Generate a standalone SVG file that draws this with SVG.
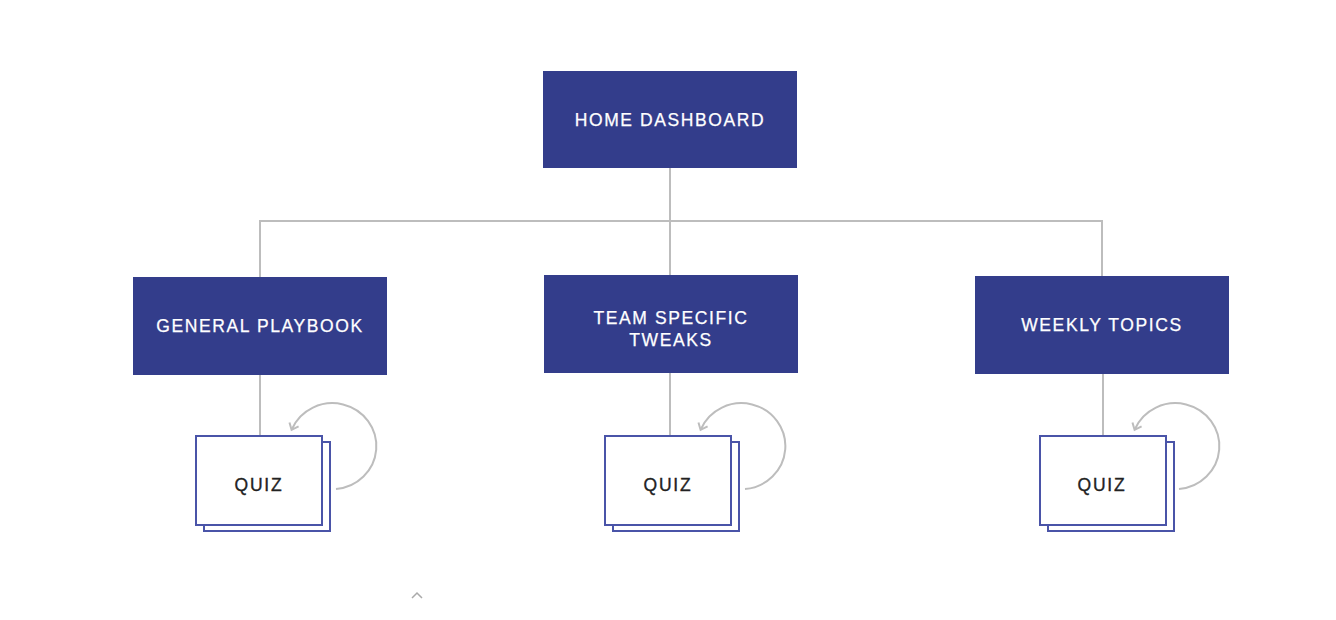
<svg xmlns="http://www.w3.org/2000/svg" width="1336" height="620" viewBox="0 0 1336 620">
<style>
.box{fill:#333d8b;}
.lbl{font-family:"Liberation Sans",Arial,sans-serif;font-size:17.5px;fill:#ffffff;letter-spacing:1.6px;text-anchor:middle;dominant-baseline:central;stroke:#fff;stroke-width:0.25;}
.q{font-family:"Liberation Sans",Arial,sans-serif;font-size:17.5px;fill:#222;letter-spacing:1.8px;text-anchor:middle;dominant-baseline:central;stroke:#222;stroke-width:0.35;}
.card{fill:#fff;stroke:#4a54a8;stroke-width:2;}
.ln{fill:none;stroke:#bdbdbd;stroke-width:2;}
</style>
<defs>
<marker id="ah" viewBox="0 0 12 12" refX="6" refY="6" markerWidth="12" markerHeight="12" markerUnits="userSpaceOnUse" orient="auto">
<path d="M1,1 L7,6 L1,11" fill="none" stroke="#bdbdbd" stroke-width="2"/>
</marker>
</defs>
<rect width="1336" height="620" fill="#fff"/>
<g id="connectors">
<path class="ln" d="M670,168 V275 M260,277 V221 H1102 V276"/>
<path class="ln" d="M260,375 V436 M670,373 V436 M1103,374 V436"/>
<path class="ln" d="M336,489 A44,43 0 1 0 292,429" marker-end="url(#ah)"/>
<path class="ln" d="M745,489 A44,43 0 1 0 701,429" marker-end="url(#ah)"/>
<path class="ln" d="M1179,489 A44,43 0 1 0 1135,429" marker-end="url(#ah)"/>
</g>
<g id="home"><rect class="box" x="543" y="71" width="254" height="97"/><text class="lbl" x="670" y="120">HOME DASHBOARD</text></g>
<g id="general"><rect class="box" x="133" y="277" width="254" height="98"/><text class="lbl" x="260" y="326">GENERAL PLAYBOOK</text></g>
<g id="team"><rect class="box" x="544" y="275" width="254" height="98"/><text class="lbl" x="671" y="318">TEAM SPECIFIC</text><text class="lbl" x="671" y="340">TWEAKS</text></g>
<g id="weekly"><rect class="box" x="975" y="276" width="254" height="98"/><text class="lbl" x="1102" y="325">WEEKLY TOPICS</text></g>
<g id="quiz1"><rect class="card" x="204" y="442" width="126" height="89"/><rect class="card" x="196" y="436" width="126" height="89"/><text class="q" x="259" y="485">QUIZ</text></g>
<g id="quiz2"><rect class="card" x="613" y="442" width="126" height="89"/><rect class="card" x="605" y="436" width="126" height="89"/><text class="q" x="668" y="485">QUIZ</text></g>
<g id="quiz3"><rect class="card" x="1048" y="442" width="126" height="89"/><rect class="card" x="1040" y="436" width="126" height="89"/><text class="q" x="1102" y="485">QUIZ</text></g>
<polyline points="412,598 417,593 422,598" fill="none" stroke="#aaa" stroke-width="1.5"/>
</svg>
